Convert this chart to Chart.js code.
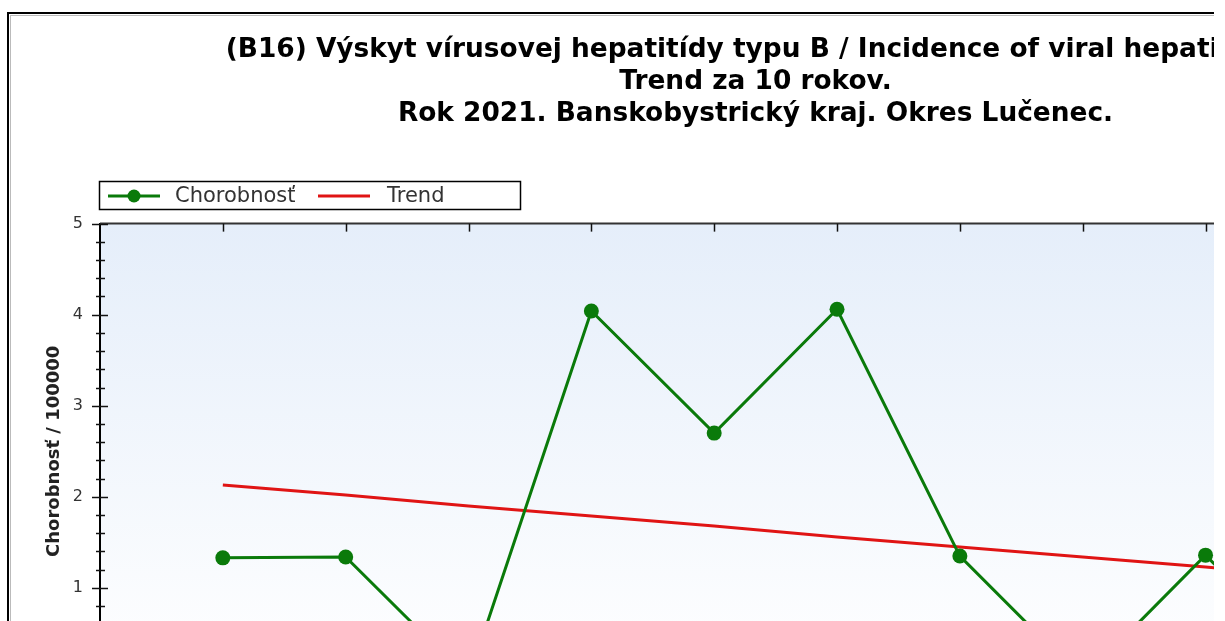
<!DOCTYPE html>
<html>
<head>
<meta charset="utf-8">
<script src="https://cdn.jsdelivr.net/npm/chart.js@4.4.1/dist/chart.umd.min.js"></script>
<style>
  body { margin: 0; background: #fff; }
  #wrap { position: relative; width: 1214px; height: 621px; overflow: hidden; }
  #myChart { position: absolute; left: 0; top: 0; }
</style>
</head>
<body>
<div id="wrap"><canvas id="myChart" width="1514" height="760"></canvas></div>
<script>
var years = [2012, 2013, 2014, 2015, 2016, 2017, 2018, 2019, 2020, 2021];
var incidence = [1.33, 1.34, 0, 4.04, 2.70, 4.06, 1.35, 0, 1.36, 0];
var trend = [2.13, 2.02, 1.90, 1.79, 1.68, 1.56, 1.45, 1.34, 1.23, 1.11];
var yTicks = [0, 1, 2, 3, 4, 5];
var titleLines = [
    '(B16) Výskyt vírusovej hepatitídy typu B / Incidence of viral hepatitis B',
    'Trend za 10 rokov.',
    'Rok 2021. Banskobystrický kraj. Okres Lučenec.'
];
var seriesNames = ['Chorobnosť', 'Trend'];

var green = '#0a7a0a';
var red = '#e01414';
var font = '"DejaVu Sans", Verdana, sans-serif';

function toPoints(values) {
    var pts = [];
    for (var i = 0; i < years.length; i++) {
        pts.push({ x: years[i], y: values[i] });
    }
    return pts;
}

var decor = {
    id: 'decor',
    beforeDraw: function (chart) {
        var c = chart.ctx;
        var a = chart.chartArea;
        // outer frame
        c.save();
        c.strokeStyle = '#000';
        c.lineWidth = 2;
        c.strokeRect(8, 13, chart.width - 16, chart.height - 20);
        c.strokeStyle = '#bbb';
        c.lineWidth = 1;
        c.strokeRect(10.5, 15.5, chart.width - 21, chart.height - 25);
        // plot background
        var g = c.createLinearGradient(0, a.top, 0, a.bottom);
        g.addColorStop(0, '#e5eefa');
        g.addColorStop(1, '#ffffff');
        c.fillStyle = g;
        c.fillRect(a.left, a.top, a.right - a.left, a.bottom - a.top);
        c.restore();
    },
    afterDraw: function (chart) {
        var c = chart.ctx;
        var a = chart.chartArea;
        var xs = chart.scales.x;
        var ys = chart.scales.y;
        c.save();
        // top edge of plot
        c.strokeStyle = '#333';
        c.lineWidth = 2;
        c.beginPath();
        c.moveTo(a.left, a.top);
        c.lineTo(a.right, a.top);
        c.stroke();
        // category ticks along the top
        c.strokeStyle = '#111';
        c.lineWidth = 1.5;
        for (var i = 0; i < years.length; i++) {
            var px = Math.round(xs.getPixelForValue(years[i])) + 0.5;
            c.beginPath();
            c.moveTo(px, a.top);
            c.lineTo(px, a.top + 8);
            c.stroke();
        }
        // y axis ticks (major + minor)
        for (var k = 0; k <= 25; k++) {
            var py = Math.round(ys.getPixelForValue(k / 5)) + 0.5;
            var major = k % 5 === 0;
            c.beginPath();
            c.moveTo(a.left - (major ? 8 : 4), py);
            c.lineTo(a.left + (major ? 8 : 5), py);
            c.stroke();
        }
        // legend
        c.fillStyle = '#fff';
        c.fillRect(99, 181, 422, 29);
        c.strokeStyle = '#000';
        c.lineWidth = 1.5;
        c.strokeRect(99.5, 181.5, 421, 28);
        c.lineWidth = 3;
        c.strokeStyle = green;
        c.beginPath();
        c.moveTo(108, 196);
        c.lineTo(160, 196);
        c.stroke();
        c.fillStyle = green;
        c.beginPath();
        c.arc(134, 196, 6.5, 0, Math.PI * 2);
        c.fill();
        c.strokeStyle = red;
        c.beginPath();
        c.moveTo(318, 196);
        c.lineTo(370, 196);
        c.stroke();
        c.fillStyle = '#333';
        c.font = '21px ' + font;
        c.textBaseline = 'middle';
        c.textAlign = 'left';
        c.fillText(seriesNames[0], 175, 197);
        c.fillText(seriesNames[1], 387, 197);
        c.restore();
    }
};

var ctx = document.getElementById('myChart').getContext('2d');
var myChart = new Chart(ctx, {
    type: 'line',
    data: {
        datasets: [{
            label: seriesNames[0],
            data: toPoints(incidence),
            borderColor: green,
            backgroundColor: green,
            borderWidth: 3,
            pointRadius: 7.5,
            pointBorderWidth: 0,
            pointBackgroundColor: green,
            fill: false,
            tension: 0
        }, {
            label: seriesNames[1],
            data: toPoints(trend),
            borderColor: red,
            borderWidth: 3,
            pointRadius: 0,
            fill: false,
            tension: 0
        }]
    },
    options: {
        responsive: false,
        animation: false,
        devicePixelRatio: 1,
        clip: false,
        layout: { padding: { left: 0, right: 3, top: 0, bottom: 40 } },
        plugins: {
            legend: { display: false },
            tooltip: { enabled: false },
            title: {
                display: true,
                text: titleLines,
                color: '#000',
                font: { family: font, size: 26.4, weight: 'bold', lineHeight: 1.22 },
                padding: { top: 34, bottom: 93 }
            }
        },
        scales: {
            x: {
                type: 'linear',
                min: 2011,
                max: 2022.45,
                afterFit: function (s) { s.height = 41; },
                grid: { display: false, drawTicks: false },
                border: { display: true, color: '#000', width: 2 },
                ticks: {
                    stepSize: 1,
                    color: '#444',
                    font: { family: font, size: 15 },
                    callback: function (v) { return years.indexOf(v) >= 0 ? String(v) : ''; }
                }
            },
            y: {
                min: 0,
                max: 5,
                afterFit: function (s) { s.width = 100; },
                afterBuildTicks: function (s) {
                    s.ticks = yTicks.map(function (v) { return { value: v }; });
                },
                grid: { display: false, drawTicks: false },
                border: { display: true, color: '#000', width: 2 },
                ticks: {
                    padding: 17,
                    color: '#333',
                    font: { family: font, size: 16 }
                },
                title: {
                    display: true,
                    text: 'Chorobnosť / 100000',
                    color: '#222',
                    font: { family: font, size: 18, weight: 'bold' },
                    padding: { top: 44, bottom: 0 }
                }
            }
        }
    },
    plugins: [decor]
});
</script>
</body>
</html>
